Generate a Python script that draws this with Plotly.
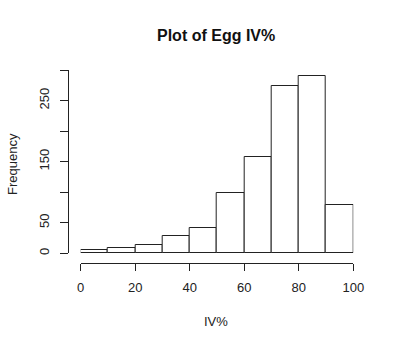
import plotly.graph_objects as go

# Histogram of egg IV% (bins of width 10)
bin_starts = [0, 10, 20, 30, 40, 50, 60, 70, 80, 90]
counts = [5, 9, 13, 28, 41, 98, 158, 273, 291, 79]
bin_width = 10
x_ticks = [0, 20, 40, 60, 80, 100]
y_ticks = [0, 50, 100, 150, 200, 250, 300]
y_tick_text = ["0", "50", "", "150", "", "250", ""]

W, H = 400, 348
FONT = "Liberation Sans, Arial, sans-serif"
INK = "#222222"
LABEL_SIZE = 13


def px_x(p):
    return p / W


def px_y(p):
    return (H - p) / H


fig = go.Figure()
fig.add_trace(go.Bar(
    x=[s + bin_width / 2 for s in bin_starts],
    y=counts,
    width=bin_width,
    marker=dict(color="white", line=dict(color=INK, width=1)),
    hoverinfo="x+y",
))

fig.update_layout(
    width=W, height=H,
    margin=dict(l=0, r=0, t=0, b=0, pad=0, autoexpand=False),
    paper_bgcolor="white", plot_bgcolor="white",
    showlegend=False,
    bargap=0,
    font=dict(family=FONT, color=INK, size=LABEL_SIZE),
    xaxis=dict(
        range=[0, 100], domain=[px_x(80.7), px_x(353.3)],
        anchor="free", position=px_y(262.7),
        tickmode="array", tickvals=x_ticks,
        ticks="outside", ticklen=7, tickcolor=INK, tickwidth=1,
        showline=True, linecolor=INK, linewidth=1,
        showgrid=False, zeroline=False, automargin=False,
        ticklabelstandoff=6,
        tickfont=dict(family=FONT, size=LABEL_SIZE, color=INK),
    ),
    yaxis=dict(
        range=[0, 300], domain=[px_y(253.2), px_y(70)],
        anchor="free", position=px_x(68.3),
        tickmode="array", tickvals=y_ticks, ticktext=y_tick_text,
        tickangle=-90,
        ticks="outside", ticklen=8, tickcolor=INK, tickwidth=1,
        showline=True, linecolor=INK, linewidth=1,
        showgrid=False, zeroline=False, automargin=False,
        ticklabelstandoff=6,
        tickfont=dict(family=FONT, size=LABEL_SIZE, color=INK),
    ),
    annotations=[
        dict(text="<b>Plot of Egg IV%</b>", x=px_x(216), y=px_y(36),
             xref="paper", yref="paper", showarrow=False,
             xanchor="center", yanchor="middle",
             font=dict(family=FONT, size=16, color="#111111")),
        dict(text="IV%", x=px_x(216), y=px_y(321),
             xref="paper", yref="paper", showarrow=False,
             xanchor="center", yanchor="middle",
             font=dict(family=FONT, size=LABEL_SIZE, color=INK)),
        dict(text="Frequency", x=px_x(12), y=px_y(164), textangle=-90,
             xref="paper", yref="paper", showarrow=False,
             xanchor="center", yanchor="middle",
             font=dict(family=FONT, size=LABEL_SIZE, color=INK)),
    ],
)

fig.write_html("out.html")
